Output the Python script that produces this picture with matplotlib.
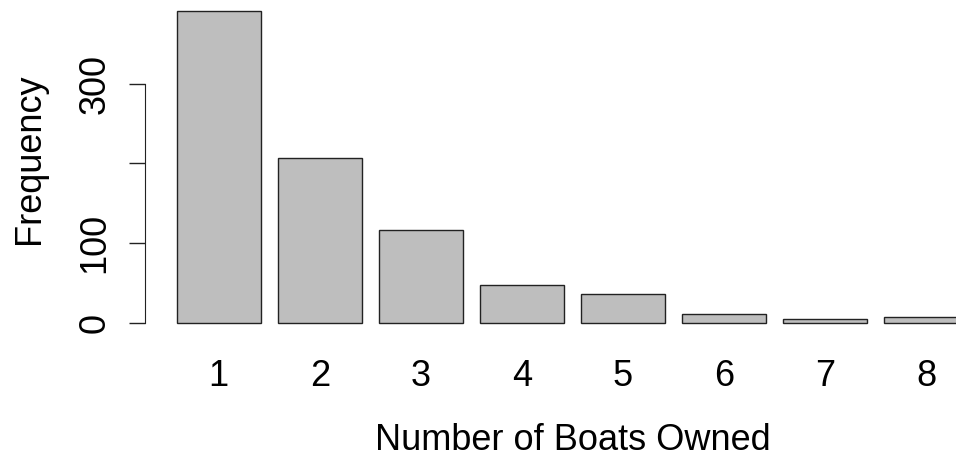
import matplotlib
matplotlib.use("Agg")
import matplotlib.pyplot as plt

# boat ownership counts
boats = ["1", "2", "3", "4", "5", "6", "7", "8"]
counts = [392, 207, 116, 47, 36, 11, 5, 7]
yticks = [0, 100, 200, 300]
# the 200 label is dropped (it would crowd its neighbours)
ytick_labels = ["0", "100", "", "300"]

plt.rcParams['font.family'] = ['Liberation Sans', 'DejaVu Sans']

fig = plt.figure(figsize=(9.56, 4.59), dpi=100)
# plot region runs past the right edge, the last bar gets cut off
ax = fig.add_axes([0.1517, 0.270, 0.8943, 0.7338])

# barplot layout: width 1, gap 0.2
lefts = [0.2 + i * 1.2 for i in range(len(counts))]
centers = [l + 0.5 for l in lefts]
ax.bar(centers, counts, width=1.0, color='#bebebe', edgecolor='#222222', linewidth=1.0)

lo, hi = 0.2, lefts[-1] + 1.0
ext = 0.04 * (hi - lo)
ax.set_xlim(lo - ext, hi + ext)
ymax = max(counts)
ax.set_ylim(-0.04 * ymax, ymax * 1.04)

for s in ['top', 'right', 'bottom']:
    ax.spines[s].set_visible(False)
ax.spines['left'].set_bounds(0, 300)
ax.spines['left'].set_color('#222222')

ax.set_yticks(yticks)
ax.set_yticklabels(ytick_labels, rotation=90, va='center')
ax.tick_params(axis='y', length=11.5, width=1.0, color='#222222', pad=12, labelsize=26)

ax.set_xticks(centers)
ax.set_xticklabels(boats)
ax.tick_params(axis='x', length=0, pad=17, labelsize=26)

fig.text(0.599, 0.041, "Number of Boats Owned", ha='center', va='center', fontsize=26)
fig.text(0.031, 0.655, "Frequency", ha='center', va='center', rotation=90, fontsize=26)

fig.savefig("out.png", dpi=100)
